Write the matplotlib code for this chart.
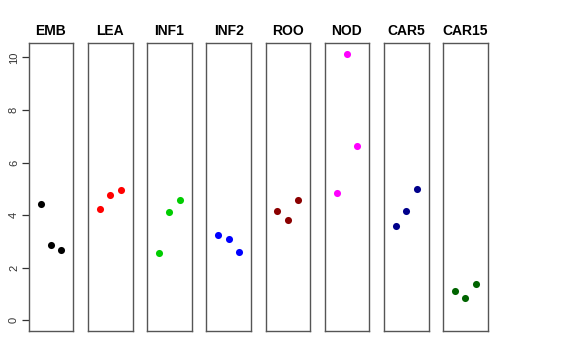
import matplotlib
matplotlib.use("Agg")
import matplotlib.pyplot as plt

plt.rcParams["font.family"] = ["Liberation Sans", "DejaVu Sans"]

categories = ["EMB", "LEA", "INF1", "INF2", "ROO", "NOD", "CAR5", "CAR15"]
colors = ["#000000", "#FF0000", "#00CD00", "#0000FF", "#8B0000", "#FF00FF", "#00008B", "#006400"]
values = {
    "EMB":   [4.42, 2.85, 2.68],
    "LEA":   [4.22, 4.75, 4.97],
    "INF1":  [2.57, 4.12, 4.59],
    "INF2":  [3.23, 3.09, 2.60],
    "ROO":   [4.17, 3.83, 4.56],
    "NOD":   [4.83, 10.14, 6.62],
    "CAR5":  [3.60, 4.17, 4.99],
    "CAR15": [1.11, 0.85, 1.39],
}
positions = [1, 2, 3]
yticks = [0, 2, 4, 6, 8, 10]

W, H = 576, 360
fig = plt.figure(figsize=(W / 100, H / 100), dpi=100)

ymax = max(max(v) for v in values.values())
ypad = 0.04 * ymax
left0, step, width = 28.7, 59.2, 44.6
top, bottom = 43, 331

for i, (cat, col) in enumerate(zip(categories, colors)):
    x0 = left0 + step * i
    ax = fig.add_axes([x0 / W, 1 - bottom / H, width / W, (bottom - top) / H])
    ax.scatter(positions, values[cat], s=26, color=col, zorder=3, linewidths=0)
    ax.set_xlim(-0.16, 4.16)
    ax.set_ylim(-ypad, ymax + ypad)
    ax.set_xticks([])
    for sp in ax.spines.values():
        sp.set_color("#555555")
        sp.set_linewidth(1.0)
    ax.set_title(cat, fontsize=10, fontweight="bold", pad=6)
    if i == 0:
        ax.set_yticks(yticks)
        ax.set_yticklabels([str(t) for t in yticks], rotation=90, va="center", fontsize=8, color="#333333")
        ax.tick_params(axis="y", length=5, width=0.9, color="#333333", pad=2)
    else:
        ax.set_yticks([])

fig.savefig("out.png", dpi=100)
